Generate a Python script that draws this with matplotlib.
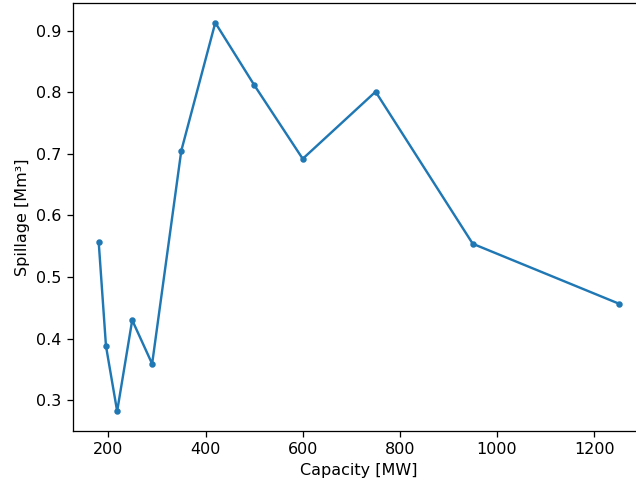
import matplotlib
matplotlib.use("Agg")
import matplotlib.pyplot as plt

capacity = [180, 195, 218, 249, 290, 350, 420, 500, 600, 750, 950, 1250]
spillage = [0.557, 0.388, 0.282, 0.430, 0.359, 0.705, 0.913, 0.812, 0.692, 0.801, 0.554, 0.457]

W, H = 636, 482
DPI = 115.5
fig = plt.figure(figsize=(W / DPI, H / DPI), dpi=DPI)
ax = fig.add_axes([72.7 / W, (H - 430.7) / H, 571.8 / W, 427.4 / H])
ax.plot(capacity, spillage, marker='.', color='#1f77b4')
ax.set_xlabel("Capacity [MW]")
ax.set_ylabel("Spillage [Mm³]")
fig.savefig("out.png", dpi=DPI)
